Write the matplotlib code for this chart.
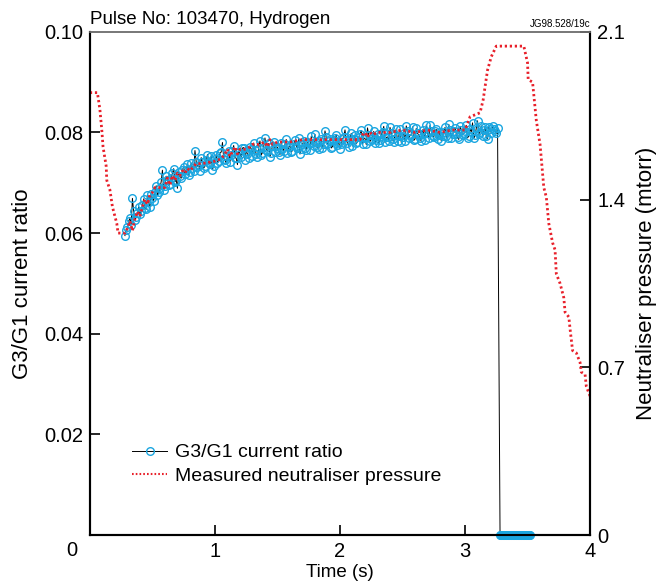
import numpy as np
import matplotlib.pyplot as plt

plt.rcParams['font.family'] = ['Liberation Sans', 'DejaVu Sans']

# G3/G1 current ratio (x1e-3), samples at t = 0.28, 0.30, ... s
ratio_start = 0.28
ratio_step = 0.02
ratio_milli = [
    59.5, 61.2, 62.9, 66.9, 62.6, 64.0, 63.8, 65.6, 65.0, 67.6,
    65.1, 66.9, 68.2, 67.5, 69.0, 72.5, 69.4, 70.6, 69.8, 71.9,
    70.2, 68.9, 71.4, 72.6, 71.7, 73.8, 72.1, 73.0, 76.4, 73.2,
    72.4, 74.1, 73.3, 75.6, 73.7, 72.6, 74.8, 73.9, 75.9, 78.0,
    74.5, 75.3, 74.2, 76.4, 75.0, 73.6, 75.8, 76.9, 74.6, 75.7,
    77.2, 75.4, 76.5, 75.1, 78.3, 76.0, 78.9, 76.3, 75.2, 77.4,
    76.1, 77.0, 75.6, 76.8, 77.6, 75.9, 77.3, 76.4, 78.4, 76.9,
    75.7, 77.6, 77.0, 78.1, 76.6, 77.8, 79.6, 77.1, 78.3, 76.9,
    80.3, 77.6, 78.6, 77.2, 78.9, 77.5, 76.7, 78.7, 80.5, 77.9,
    78.9, 77.3, 79.4, 78.1, 79.6, 77.7, 78.8, 80.9, 78.2, 79.3,
    77.9, 79.7, 78.4, 80.1, 78.0, 79.1, 81.0, 78.6, 79.5, 78.2,
    80.6, 79.0, 78.3, 80.2, 79.4, 81.1, 78.7, 79.8, 78.9, 80.5,
    78.5, 79.9, 81.4, 79.2, 80.3, 78.6, 80.0, 79.3, 81.0, 78.8,
    80.4, 79.6, 80.9, 79.0, 81.2, 79.5, 80.3, 78.9, 80.7, 81.9,
    79.4, 82.3, 80.1, 79.3, 81.0, 78.7, 80.6, 81.2, 80.2, 80.8,
]
# in-between samples at t = 0.29, 0.31, ... s
mid_start = 0.29
mid_milli = [
    60.6, 62.4, 61.7, 64.3, 63.1, 65.2, 64.4, 66.8, 64.7, 66.2,
    67.8, 66.4, 69.4, 68.1, 70.2, 68.6, 71.3, 69.5, 70.9, 72.8,
    70.6, 72.2, 70.9, 73.1, 72.5, 71.6, 73.9, 72.3, 74.2, 73.6,
    75.0, 72.9, 74.5, 74.0, 75.3, 73.4, 75.6, 74.4, 76.1, 74.8,
    73.9, 76.3, 75.5, 77.4, 74.9, 76.2, 75.1, 77.0, 76.4, 74.9,
    76.8, 77.9, 75.8, 76.9, 75.5, 77.2, 76.6, 77.8, 76.0, 78.1,
    77.3, 76.2, 77.9, 76.4, 78.6, 77.1, 76.1, 77.7, 77.4, 78.8,
    76.7, 78.3, 76.5, 77.9, 79.2, 77.4, 78.0, 76.8, 78.6, 77.7,
    79.0, 78.2, 76.9, 78.4, 79.5, 78.1, 77.6, 79.1, 78.4, 77.2,
    79.8, 78.6, 77.8, 79.0, 80.4, 78.9, 77.6, 79.4, 78.7, 80.2,
    78.5, 77.8, 79.6, 81.2, 79.0, 78.3, 79.8, 78.1, 80.7, 79.3,
    78.0, 79.9, 81.3, 78.8, 79.6, 78.4, 80.8, 79.5, 78.2, 79.9,
    81.5, 78.9, 80.2, 79.1, 80.6, 79.4, 78.3, 80.1, 79.2, 81.6,
    78.9, 80.3, 79.7, 78.6, 80.5, 79.8, 81.4, 79.3, 80.1, 78.8,
    80.9, 79.6, 81.3, 80.4, 79.2, 81.0, 79.9, 80.7, 79.8,
]
# beam off: ratio reads zero from 3.28 s to 3.52 s
off_start = 3.28
off_end = 3.52

# measured neutraliser pressure (mtorr)
p_time = [0.00, 0.06, 0.08, 0.095, 0.105, 0.13, 0.135, 0.16, 0.18, 0.215,
          0.225, 0.28, 0.30, 0.32, 0.34, 0.36, 0.38, 0.40, 0.42, 0.44,
          0.46, 0.48, 0.50, 0.52, 0.60, 0.62, 0.64, 0.66, 0.68, 0.70,
          0.72, 0.74, 0.76, 0.78, 0.80, 0.85, 0.90, 0.95, 1.00, 1.05,
          1.08, 1.10, 1.12, 1.14, 1.16, 1.18, 1.20, 1.25, 1.28, 1.30,
          1.35, 1.40, 1.42, 1.44, 1.46, 1.50, 1.60, 1.70, 1.80, 2.16,
          2.18, 2.20, 2.22, 2.24, 2.26, 2.30, 2.40, 2.50, 2.60, 2.70,
          2.80, 2.90, 3.00, 3.04, 3.12, 3.145, 3.16, 3.18, 3.21, 3.25,
          3.47, 3.50, 3.505, 3.54, 3.57, 3.60, 3.63, 3.65, 3.67, 3.70,
          3.72, 3.73, 3.76, 3.79, 3.80, 3.83, 3.84, 3.86, 3.89, 3.92,
          3.93, 3.96, 3.97, 4.00]
pressure = [1.846, 1.846, 1.775, 1.69, 1.62, 1.54, 1.48, 1.44, 1.37, 1.30,
            1.26, 1.26, 1.28, 1.31, 1.27, 1.32, 1.35, 1.33, 1.37, 1.40,
            1.38, 1.42, 1.43, 1.45, 1.45, 1.49, 1.46, 1.50, 1.48, 1.51,
            1.50, 1.52, 1.51, 1.53, 1.52, 1.55, 1.55, 1.555, 1.56, 1.57,
            1.59, 1.61, 1.58, 1.60, 1.62, 1.59, 1.61, 1.61, 1.62, 1.63,
            1.63, 1.64, 1.62, 1.65, 1.63, 1.64, 1.64, 1.65, 1.65, 1.65,
            1.67, 1.68, 1.66, 1.68, 1.67, 1.68, 1.68, 1.69, 1.68, 1.69,
            1.68, 1.69, 1.69, 1.745, 1.762, 1.816, 1.87, 1.94, 1.996, 2.04,
            2.04, 1.97, 1.90, 1.89, 1.73, 1.63, 1.45, 1.41, 1.30, 1.22,
            1.19, 1.09, 1.05, 0.99, 0.93, 0.91, 0.86, 0.77, 0.76, 0.72,
            0.68, 0.67, 0.62, 0.58]

t_main = ratio_start + ratio_step * np.arange(len(ratio_milli))
t_mid = mid_start + ratio_step * np.arange(len(mid_milli))
t_off = np.arange(off_start, off_end + 0.001, 0.005)
t_on = np.concatenate([t_main, t_mid])
r_on = np.concatenate([ratio_milli, mid_milli]) / 1000
order = np.argsort(t_on)
t_ratio = np.concatenate([t_on[order], t_off])
ratio = np.concatenate([r_on[order], np.zeros(len(t_off))])

blue = '#1ba6e0'
red = '#e8202a'

fig = plt.figure(figsize=(6.66, 5.88), dpi=100)
ax = fig.add_axes([0.135, 0.09, 0.751, 0.856])
ax2 = ax.twinx()

ax.plot(t_ratio, ratio, color='black', lw=0.7, marker='o', ms=5.5,
        mfc='none', mec=blue, mew=1.0, clip_on=False, zorder=3,
        label='G3/G1 current ratio')
ax2.plot(p_time, pressure, color=red, lw=2, ls=(0, (0.8, 1.0)),
         zorder=2)
# legend entry for the pressure lives on the first axes
ax.plot([], [], color=red, lw=1.5, ls=(0, (0.8, 1.0)),
        label='Measured neutraliser pressure')

ax.set_xlim(0, 4)
ax.set_ylim(0, 0.1)
ax2.set_ylim(0, 2.1)

ax.set_xticks([0, 1, 2, 3, 4])
ax.set_xticklabels(['', '1', '2', '3', '4'])
ax.set_yticks([0, 0.02, 0.04, 0.06, 0.08, 0.10])
ax.set_yticklabels(['', '0.02', '0.04', '0.06', '0.08', '0.10'])
ax2.set_yticks([0, 0.7, 1.4, 2.1])
ax2.set_yticklabels(['0', '0.7', '1.4', '2.1'])
ax.text(-0.026, -0.012, '0', transform=ax.transAxes, ha='right', va='top',
        fontsize=14.5)

for a in (ax, ax2):
    a.tick_params(direction='in', length=7, width=1.2, labelsize=14.5,
                  top=False, pad=5)
    for s in a.spines.values():
        s.set_linewidth(1.5)
    a.spines['top'].set_color('#777777')
    a.spines['top'].set_linewidth(1.2)

ax.set_xlabel('Time (s)', fontsize=13.5, labelpad=2)
ax.set_ylabel('G3/G1 current ratio', fontsize=16, labelpad=8)
ax2.set_ylabel('Neutraliser pressure (mtorr)', fontsize=16, labelpad=8)

ax.text(0.0, 1.008, 'Pulse No: 103470, Hydrogen', transform=ax.transAxes,
        ha='left', va='bottom', fontsize=13.5)
ax.text(1.0, 1.006, 'JG98.528/19c', transform=ax.transAxes,
        ha='right', va='bottom', fontsize=7)

ax.legend(loc='lower left', bbox_to_anchor=(0.05, 0.065), frameon=False,
          fontsize=14, handlelength=1.8, handletextpad=0.4,
          labelspacing=0.3)

fig.savefig('out.png', dpi=100)
